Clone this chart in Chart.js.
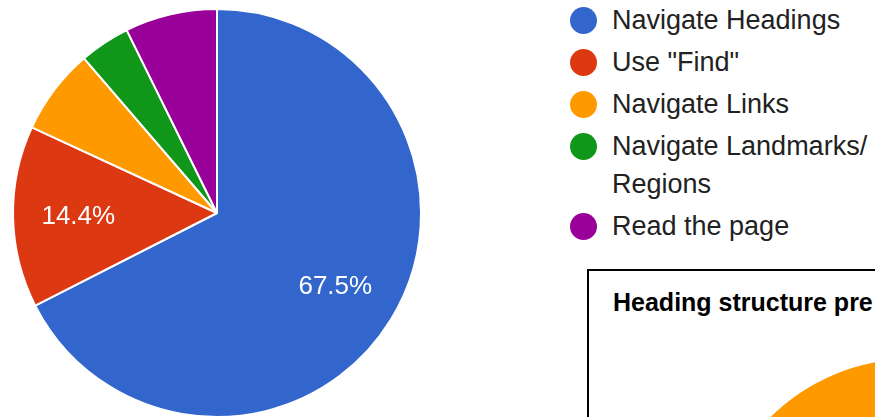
<!DOCTYPE html>
<html>
<head>
<meta charset="utf-8">
<script src="https://cdn.jsdelivr.net/npm/chart.js@4/dist/chart.umd.min.js"></script>
<style>
  html, body { margin: 0; padding: 0; width: 875px; height: 417px; overflow: hidden; background: #fff; }
  body { position: relative; font-family: Arial, "Liberation Sans", sans-serif; }
  #mainWrap { position: absolute; left: 0; top: 0; width: 434px; height: 426px; }
  #legend { position: absolute; left: 570px; top: 1px; width: 320px; }
  .item { display: flex; align-items: flex-start; margin-bottom: 4px; }
  .dot { width: 27px; height: 27px; border-radius: 50%; margin-top: 5.5px; flex: none; }
  .txt { margin-left: 15px; width: 262px; font-size: 27px; line-height: 38px; color: #222; }
  #box { position: absolute; left: 587px; top: 269px; width: 400px; height: 300px; border: 2px solid #000; overflow: hidden; }
  #boxTitle { position: absolute; left: 24px; top: 19px; font-size: 25px; line-height: 25px; font-weight: bold; color: #000; white-space: nowrap; }
  #subWrap { position: absolute; left: 113px; top: 79px; width: 420px; height: 420px; }
</style>
</head>
<body>
<div id="mainWrap"><canvas id="main"></canvas></div>
<div id="legend"></div>
<div id="box">
  <div id="boxTitle"></div>
  <div id="subWrap"><canvas id="sub"></canvas></div>
</div>
<script>
// ---- data ----
const categories = ['Navigate Headings', 'Use "Find"', 'Navigate Links', 'Navigate Landmarks/ Regions', 'Read the page'];
const shares = [67.5, 14.4, 6.8, 4.0, 7.3];
const sliceColors = ['#3366cc', '#dc3912', '#ff9900', '#109618', '#990099'];

const subTitle = 'Heading structure pre';
const subCategories = ['Visible slice'];
const subValues = [100];
const subColors = ['#ff9900'];

// ---- percentage labels inside slices ----
const sliceLabels = {
  id: 'sliceLabels',
  afterDatasetsDraw(chart, args, opts) {
    if (!opts.enabled) return;
    const ctx = chart.ctx;
    const meta = chart.getDatasetMeta(0);
    const data = chart.data.datasets[0].data;
    const total = data.reduce((a, b) => a + b, 0);
    ctx.save();
    ctx.fillStyle = '#ffffff';
    ctx.font = '26px Arial, "Liberation Sans", sans-serif';
    ctx.textAlign = 'center';
    ctx.textBaseline = 'middle';
    meta.data.forEach((arc, i) => {
      const pct = data[i] / total * 100;
      if (pct < 10) return;
      const p = arc.getProps(['x', 'y', 'startAngle', 'endAngle', 'outerRadius'], true);
      const mid = (p.startAngle + p.endAngle) / 2;
      const r = p.outerRadius * 0.68;
      ctx.fillText(pct.toFixed(1) + '%', p.x + Math.cos(mid) * r, p.y + Math.sin(mid) * r + 1);
    });
    ctx.restore();
  }
};

new Chart(document.getElementById('main'), {
  type: 'pie',
  data: {
    labels: categories,
    datasets: [{ data: shares, backgroundColor: sliceColors, borderColor: '#ffffff', borderWidth: 2 }]
  },
  options: {
    responsive: true,
    maintainAspectRatio: false,
    animation: false,
    radius: 204,
    layout: { padding: 0 },
    plugins: { legend: { display: false }, tooltip: { enabled: false }, sliceLabels: { enabled: true } }
  },
  plugins: [sliceLabels]
});

// ---- HTML legend built from the data arrays ----
const legend = document.getElementById('legend');
categories.forEach((c, i) => {
  const item = document.createElement('div');
  item.className = 'item';
  const dot = document.createElement('div');
  dot.className = 'dot';
  dot.style.background = sliceColors[i];
  const t = document.createElement('div');
  t.className = 'txt';
  t.textContent = c;
  item.appendChild(dot);
  item.appendChild(t);
  legend.appendChild(item);
});

document.getElementById('boxTitle').textContent = subTitle;

new Chart(document.getElementById('sub'), {
  type: 'pie',
  data: {
    labels: subCategories,
    datasets: [{ data: subValues, backgroundColor: subColors, borderWidth: 0 }]
  },
  options: {
    responsive: true,
    maintainAspectRatio: false,
    animation: false,
    radius: 201,
    plugins: { legend: { display: false }, tooltip: { enabled: false }, sliceLabels: { enabled: false } }
  },
  plugins: [sliceLabels]
});
</script>
</body>
</html>
